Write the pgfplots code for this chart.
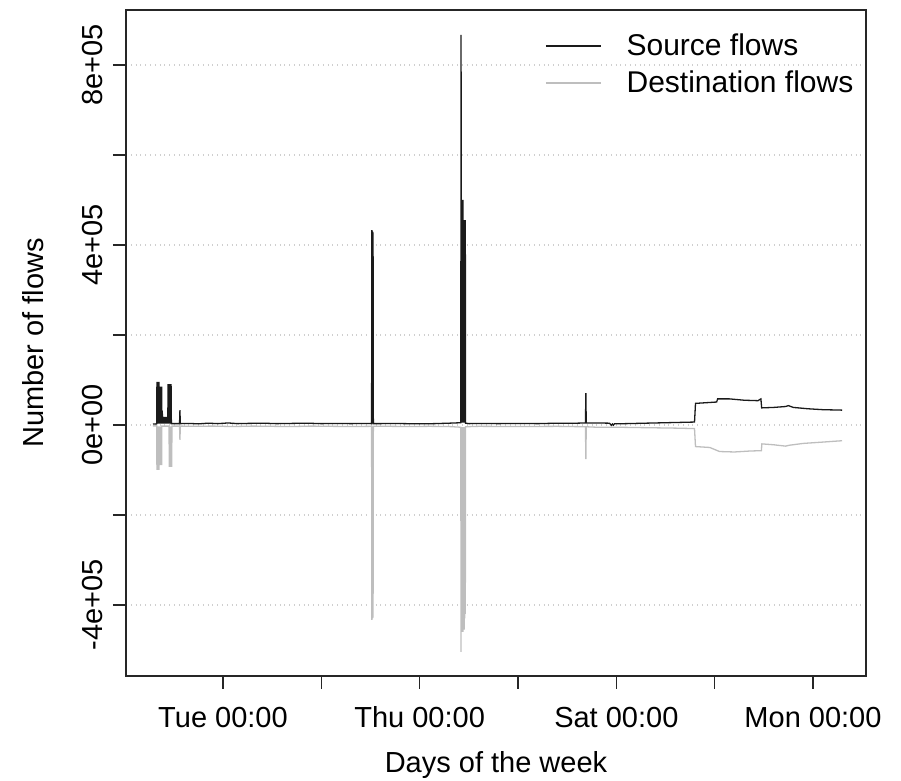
\documentclass[border=0pt]{standalone}
\usepackage{fontspec}
\setmainfont{Liberation Sans}
\usepackage{pgfplots}
\pgfplotsset{compat=1.18}
\definecolor{srcline}{HTML}{1A1A1A}
\definecolor{dstline}{HTML}{BEBEBE}
\definecolor{gridgray}{HTML}{CFCFCF}

\begin{document}
\begin{tikzpicture}
\begin{axis}[
  at={(0pt,0pt)}, anchor=south west,
  scale only axis, width=370pt, height=333pt,
  xmin=0.0135, xmax=7.539, ymin=-557800, ymax=922200,
  axis line style={line width=0.8pt, black!85},
  tick align=outside, xtick pos=left, ytick pos=left,
  major tick length=6.5pt,
  tick style={line width=0.7pt, black!85},
  xtick={1,2,3,4,5,6,7},
  xticklabels={Tue 00:00,,Thu 00:00,,Sat 00:00,,Mon 00:00},
  ytick={-400000,-200000,0,200000,400000,600000,800000},
  yticklabels={-4e+05,,0e+00,,4e+05,,8e+05},
  scaled y ticks=false,
  ymajorgrids,
  major grid style={gridgray, dotted, line width=0.6pt},
  tick label style={font=\fontsize{14.5}{17}\selectfont},
  xticklabel style={anchor=base},
  xticklabel shift=19.5pt,
  yticklabel style={rotate=90, anchor=center},
  yticklabel shift=10pt,
  label style={font=\fontsize{14.5}{17}\selectfont},
  xlabel={Days of the week},
  ylabel={Number of flows},
  xlabel style={at={(axis description cs:0.5,-0.1336)}, anchor=center},
  ylabel style={at={(axis description cs:-0.1257,0.5)}, anchor=center},
  legend style={draw=none, fill=none, at={(rel axis cs:0.997,0.977)}, anchor=north east,
    font=\fontsize{15}{18}\selectfont, row sep=2pt},
  legend cell align=left,
  legend image code/.code={\draw[#1, line width=0.8pt] (0pt,0pt) -- (27.5pt,0pt); \path (38pt,0pt);},
]
% source flows (positive)
\addplot[srcline, line width=0.65pt] coordinates {
(0.288,2000) (0.326,2500)
(0.328,96000) (0.330,3000) (0.332,96000) (0.334,3000) (0.336,96000) (0.338,3000)
(0.340,96000) (0.342,3000) (0.344,96000) (0.346,3000) (0.348,96000) (0.350,3000)
(0.352,85000) (0.354,3000) (0.356,85000) (0.358,3000) (0.360,85000) (0.362,3000)
(0.364,85000) (0.366,3000) (0.368,85000) (0.370,3000) (0.372,85000) (0.374,3000)
(0.376,85000) (0.378,3000)
(0.386,18000) (0.392,3000) (0.398,18000) (0.404,3000) (0.410,18000) (0.416,3000)
(0.422,18000) (0.428,3000) (0.434,18000) (0.438,3000)
(0.442,91000) (0.445,3000) (0.448,91000) (0.451,3000) (0.454,91000) (0.457,3000)
(0.460,91000) (0.463,3000) (0.466,91000) (0.469,3000) (0.472,91000) (0.475,3000)
(0.558,3000) (0.562,33000) (0.566,3000)
(0.65,3500) (0.75,2500) (0.85,4000) (0.95,3000) (1.05,4500) (1.15,3000) (1.25,3500)
(1.40,4000) (1.55,3000) (1.70,3500) (1.85,4000) (2.00,3000) (2.15,3500) (2.30,3000)
(2.45,3500) (2.511,3000) (2.514,433000) (2.517,3000) (2.520,430000) (2.523,3000)
(2.526,428000) (2.529,3000)
(2.60,3000) (2.70,3500) (2.85,3000) (3.00,2500) (3.15,3000) (3.30,4000) (3.418,5000)
(3.421,867000) (3.424,5000)
(3.428,500000) (3.431,5000) (3.434,500000) (3.437,5000) (3.440,500000) (3.443,5000)
(3.446,455000) (3.449,5000) (3.452,455000) (3.455,5000) (3.458,455000) (3.461,5000)
(3.464,455000) (3.467,4000)
(3.50,3000) (3.60,3500) (3.80,3000) (4.00,3500) (4.20,3000) (4.40,4000)
(4.60,4000) (4.686,4500) (4.690,71000) (4.694,4500) (4.80,4500) (4.93,4000)
(4.95,-1000) (4.96,2000) (4.97,-500) (4.98,2500) (5.10,3000) (5.30,4000) (5.50,5000)
(5.70,6000) (5.795,6500) (5.805,48000) (5.95,50000) (6.02,51000) (6.03,58000)
(6.15,58000) (6.30,55000) (6.44,54000) (6.470,58000) (6.478,38000) (6.60,39000)
(6.72,41000) (6.75,43000) (6.80,39000) (6.95,36000) (7.10,34000) (7.295,33000)
};
\addlegendentry{Source flows}
% destination flows (negative)
\addplot[dstline, line width=0.65pt] coordinates {
(0.288,-2000) (0.326,-2000)
(0.328,-100000) (0.330,-3000) (0.332,-100000) (0.334,-3000) (0.336,-100000) (0.338,-3000)
(0.340,-100000) (0.342,-3000) (0.344,-100000) (0.346,-3000) (0.348,-100000) (0.350,-3000)
(0.352,-89000) (0.354,-3000) (0.356,-89000) (0.358,-3000) (0.360,-89000) (0.362,-3000)
(0.364,-89000) (0.366,-3000) (0.368,-89000) (0.370,-3000) (0.372,-89000) (0.374,-3000)
(0.376,-89000) (0.378,-2500)
(0.451,-2500) (0.454,-93000) (0.457,-3000) (0.460,-93000) (0.463,-3000) (0.466,-93000)
(0.469,-3000) (0.472,-93000) (0.475,-3000) (0.478,-93000) (0.481,-2500)
(0.558,-2500) (0.562,-33000) (0.566,-2500)
(0.70,-3000) (0.90,-2500) (1.10,-3500) (1.30,-2500) (1.50,-3000) (1.70,-3500)
(1.90,-2500) (2.10,-3000) (2.30,-3500) (2.511,-3000) (2.514,-433000) (2.517,-3000)
(2.520,-430000) (2.523,-3000) (2.526,-428000) (2.529,-3000)
(2.70,-3000) (2.90,-3500) (3.10,-3000) (3.30,-3500)
(3.418,-5000) (3.421,-504000) (3.424,-5000)
(3.428,-460000) (3.431,-5000) (3.434,-455000) (3.437,-5000) (3.440,-460000) (3.443,-5000)
(3.446,-440000) (3.449,-5000) (3.452,-455000) (3.455,-5000) (3.458,-430000) (3.461,-5000)
(3.464,-420000) (3.467,-4000)
(3.60,-3000) (4.00,-3500) (4.40,-3000) (4.686,-4000) (4.690,-76000)
(4.694,-4000) (4.80,-5000) (5.00,-5000) (5.30,-6000) (5.60,-7000) (5.795,-8000)
(5.805,-48000) (5.95,-50000) (6.05,-59000) (6.20,-60000) (6.35,-58000) (6.475,-57000)
(6.480,-42000) (6.60,-44000) (6.72,-47000) (6.76,-45000) (6.90,-41000) (7.10,-38000)
(7.295,-35000)
};
\addlegendentry{Destination flows}
\end{axis}
\pgfresetboundingbox
\useasboundingbox (-63pt,-52.5pt) rectangle (387.5pt,338pt);
\end{tikzpicture}
\end{document}
